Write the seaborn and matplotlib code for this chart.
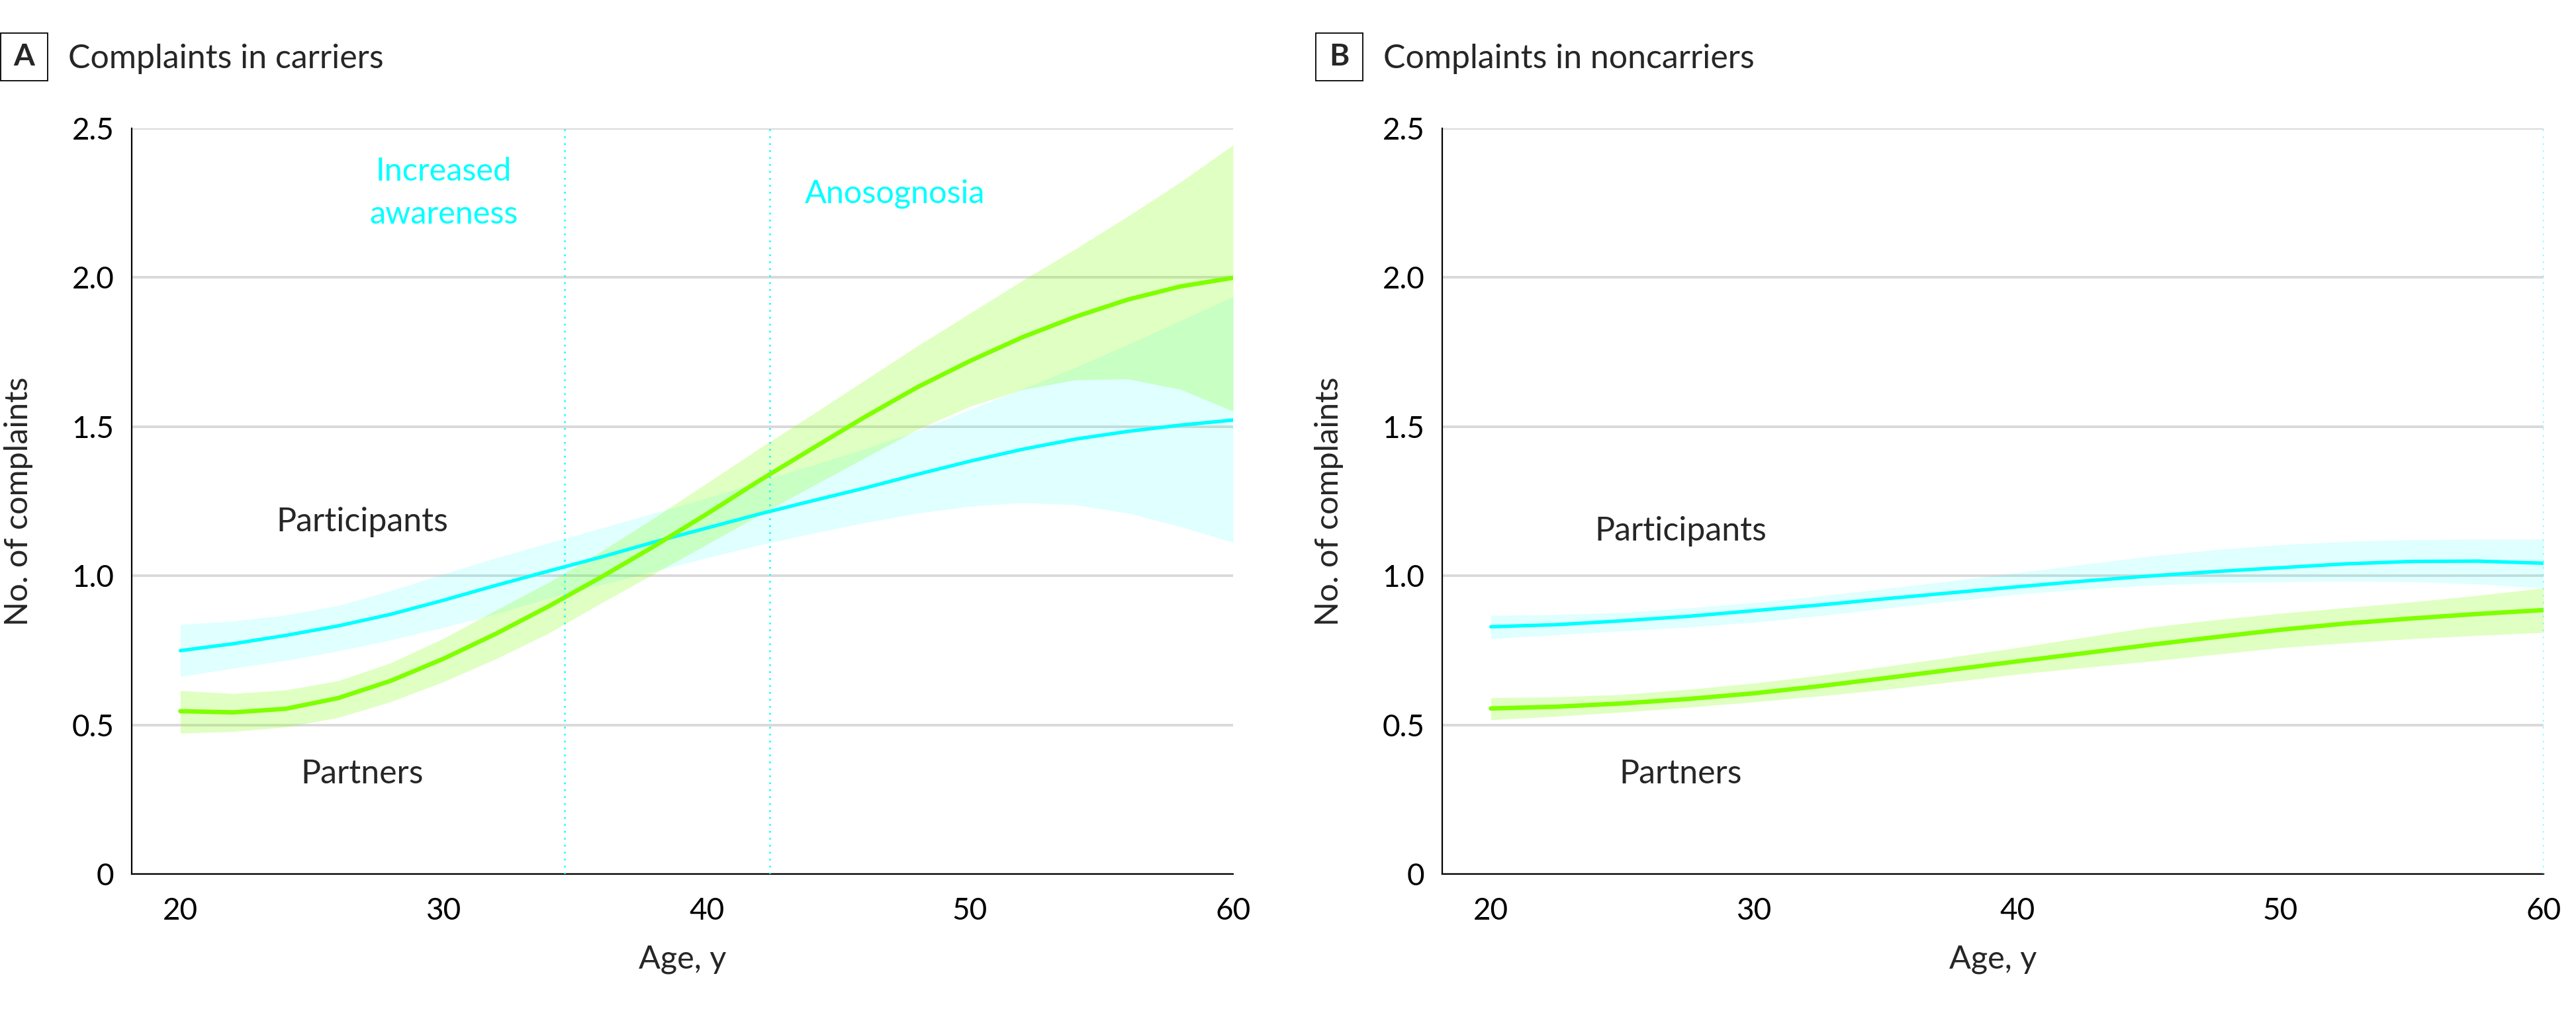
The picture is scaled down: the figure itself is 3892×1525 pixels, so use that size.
import numpy as np
import pandas as pd
import matplotlib
matplotlib.use("Agg")
import matplotlib.pyplot as plt
import matplotlib.patches as mpatches
import seaborn as sns

# Panel A: carriers (ages every 2 y)
age_a = [20, 22, 24, 26, 28, 30, 32, 34, 36, 38, 40, 42, 44, 46, 48, 50, 52, 54, 56, 58, 60]
part_a = [0.749, 0.772, 0.800, 0.832, 0.871, 0.918, 0.968, 1.016, 1.063, 1.113, 1.160,
          1.207, 1.251, 1.294, 1.340, 1.384, 1.424, 1.458, 1.484, 1.505, 1.522]
part_a_hi = [0.837, 0.848, 0.868, 0.900, 0.950, 1.006, 1.060, 1.110, 1.160, 1.210, 1.260,
             1.315, 1.370, 1.425, 1.485, 1.557, 1.626, 1.698, 1.775, 1.855, 1.936]
part_a_lo = [0.662, 0.690, 0.716, 0.748, 0.785, 0.827, 0.872, 0.925, 0.970, 1.015, 1.060,
             1.103, 1.142, 1.178, 1.210, 1.233, 1.245, 1.238, 1.210, 1.165, 1.112]
partn_a = [0.546, 0.542, 0.554, 0.590, 0.648, 0.722, 0.806, 0.898, 0.996, 1.099, 1.207,
           1.319, 1.426, 1.532, 1.632, 1.720, 1.800, 1.868, 1.926, 1.970, 1.999]
partn_a_hi = [0.615, 0.605, 0.617, 0.648, 0.708, 0.790, 0.885, 0.978, 1.082, 1.194, 1.310,
              1.427, 1.540, 1.655, 1.770, 1.880, 1.990, 2.095, 2.205, 2.320, 2.444]
partn_a_lo = [0.472, 0.478, 0.493, 0.525, 0.578, 0.645, 0.722, 0.808, 0.909, 1.007, 1.105,
              1.203, 1.300, 1.395, 1.490, 1.568, 1.624, 1.657, 1.660, 1.625, 1.552]

# Panel B: noncarriers (ages every 2.5 y)
age_b = [20, 22.5, 25, 27.5, 30, 32.5, 35, 37.5, 40, 42.5, 45, 47.5, 50, 52.5, 55, 57.5, 60]
part_b = [0.829, 0.836, 0.849, 0.864, 0.883, 0.902, 0.923, 0.943, 0.963, 0.982, 0.999,
          1.014, 1.027, 1.040, 1.048, 1.049, 1.042]
part_b_hi = [0.867, 0.870, 0.877, 0.892, 0.910, 0.932, 0.957, 0.983, 1.010, 1.038, 1.065,
             1.087, 1.104, 1.115, 1.121, 1.123, 1.123]
part_b_lo = [0.789, 0.802, 0.815, 0.828, 0.844, 0.866, 0.891, 0.915, 0.938, 0.955, 0.968,
             0.976, 0.980, 0.982, 0.980, 0.972, 0.959]
partn_b = [0.555, 0.561, 0.572, 0.587, 0.606, 0.630, 0.657, 0.685, 0.713, 0.740, 0.768,
           0.794, 0.819, 0.840, 0.857, 0.872, 0.885]
partn_b_hi = [0.591, 0.594, 0.602, 0.619, 0.640, 0.666, 0.696, 0.727, 0.759, 0.793, 0.827,
              0.852, 0.874, 0.893, 0.912, 0.934, 0.959]
partn_b_lo = [0.517, 0.529, 0.543, 0.559, 0.577, 0.597, 0.619, 0.644, 0.670, 0.692, 0.713,
              0.736, 0.759, 0.775, 0.789, 0.800, 0.810]

phase_lines = [34.6, 42.4]
y_ticks = [0, 0.5, 1.0, 1.5, 2.0, 2.5]
y_tick_labels = ["0", "0.5", "1.0", "1.5", "2.0", "2.5"]
x_ticks = [20, 30, 40, 50, 60]

CYAN = "#00FFFF"
GREEN = "#7FFF00"

sns.set_theme(style="white")
plt.rcParams["font.family"] = ["Lato", "DejaVu Sans"]

fig = plt.figure(figsize=(38.92, 15.25), dpi=100)
W, H = 3892, 1525
ax_a = fig.add_axes([199 / W, 1 - 1321 / H, 1664 / W, 1127 / H])
ax_b = fig.add_axes([2179 / W, 1 - 1321 / H, 1664 / W, 1127 / H])


def draw_panel(ax, age, p, p_hi, p_lo, q, q_hi, q_lo):
    ax.fill_between(age, p_lo, p_hi, color=CYAN, alpha=0.12, linewidth=0, zorder=2)
    ax.fill_between(age, q_lo, q_hi, color=GREEN, alpha=0.24, linewidth=0, zorder=3)
    df = pd.DataFrame({"age": age, "participants": p, "partners": q})
    sns.lineplot(data=df, x="age", y="participants", ax=ax, color=CYAN,
                 linewidth=3.8, zorder=4)
    sns.lineplot(data=df, x="age", y="partners", ax=ax, color=GREEN,
                 linewidth=4.8, zorder=5)

    ax.set_xlim(18.15, 60)
    ax.set_ylim(0, 2.5)
    ax.set_xticks(x_ticks)
    ax.set_yticks(y_ticks)
    ax.set_yticklabels(y_tick_labels)
    ax.grid(axis="y", color="#d9d9d9", linewidth=2.8, zorder=0)
    ax.grid(axis="x", visible=False)
    ax.set_axisbelow(True)
    for side in ["top", "right"]:
        ax.spines[side].set_visible(False)
    for side in ["left", "bottom"]:
        ax.spines[side].set_color("black")
        ax.spines[side].set_linewidth(1.6)
    ax.tick_params(axis="both", direction="out", colors="black", labelsize=33,
                   width=1.3)
    ax.tick_params(axis="y", length=11, pad=8)
    ax.tick_params(axis="x", length=13, pad=12)
    ax.set_xlabel("Age, y", fontsize=35, labelpad=22)
    ax.set_ylabel("No. of complaints", fontsize=35)
    ax.yaxis.set_label_coords(-0.0895, 0.5)


draw_panel(ax_a, age_a, part_a, part_a_hi, part_a_lo, partn_a, partn_a_hi, partn_a_lo)
draw_panel(ax_b, age_b, part_b, part_b_hi, part_b_lo, partn_b, partn_b_hi, partn_b_lo)

# dotted phase markers
dot_style = dict(color=CYAN, linewidth=1.8, linestyle=(0, (1, 3.2)), zorder=6)
for xv in phase_lines:
    ax_a.axvline(xv, 0, 1, **dot_style)
ax_b.axvline(60, 0, 1, **dot_style)

# in-plot annotations
ax_a.text(30, 2.325, "Increased", color=CYAN, fontsize=35, ha="center", va="baseline")
ax_a.text(30, 2.18, "awareness", color=CYAN, fontsize=35, ha="center", va="baseline")
ax_a.text(47.16, 2.25, "Anosognosia", color=CYAN, fontsize=35, ha="center", va="baseline")
ax_a.text(26.9, 1.149, "Participants", fontsize=36, ha="center", va="baseline")
ax_a.text(26.9, 0.304, "Partners", fontsize=36, ha="center", va="baseline")
ax_b.text(27.2, 1.117, "Participants", fontsize=36, ha="center", va="baseline")
ax_b.text(27.2, 0.304, "Partners", fontsize=36, ha="center", va="baseline")

# panel letters and titles
for letter, box_x, title_x, title in [("A", 1, 103, "Complaints in carriers"),
                                      ("B", 1988, 2090, "Complaints in noncarriers")]:
    rect = mpatches.Rectangle((box_x / W, 1 - 122 / H), 71 / W, 72 / H,
                              transform=fig.transFigure, facecolor="white",
                              edgecolor="black", linewidth=1.3)
    fig.patches.append(rect)
    fig.text((box_x + 35.5) / W, 1 - 86 / H, letter, fontsize=33, fontweight="bold",
             ha="center", va="center")
    fig.text(title_x / W, 1 - 103 / H, title, fontsize=36, ha="left", va="baseline")

fig.savefig("out.png", dpi=100, facecolor="white")
